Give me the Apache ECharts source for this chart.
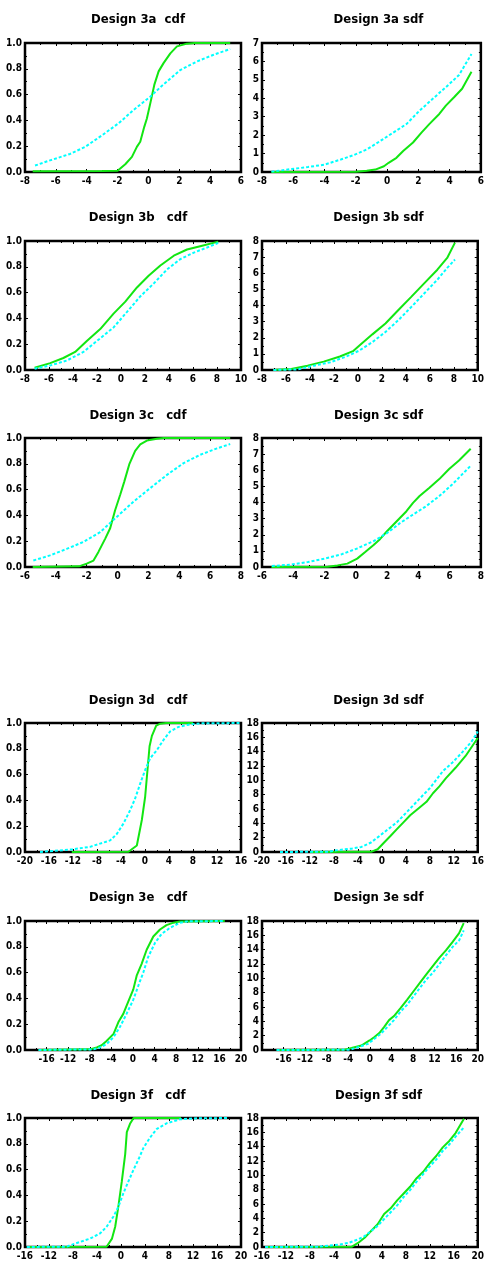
<!DOCTYPE html>
<html>
<head>
<meta charset="utf-8">
<script src="https://cdn.jsdelivr.net/npm/echarts/dist/echarts.min.js"></script>
<style>
html,body{margin:0;padding:0;background:#fff}
#chart{width:487px;height:1262px}
</style>
</head>
<body>
<div id="chart"></div>
<script>
// ---- Design 3a ----
const cdf3aGreen = [[-7.5,0.005],[-3,0.008],[-2,0.01],[-1.5,0.06],[-1.07,0.117],[-0.75,0.195],[-0.53,0.234],[-0.27,0.35],[-0.1,0.415],[0.12,0.532],[0.38,0.675],[0.66,0.78],[0.98,0.844],[1.42,0.92],[1.85,0.974],[2.5,0.995],[3,1],[5.3,1]];
const cdf3aCyan = [[-7.35,0.05],[-6.38,0.09],[-5.08,0.14],[-4.1,0.195],[-3.0,0.285],[-1.94,0.377],[-0.97,0.48],[0.12,0.584],[0.77,0.657],[2.06,0.79],[3.15,0.857],[4.23,0.909],[5.3,0.953]];
const sdf3aGreen = [[-7.4,0],[-2,0.02],[-1.3,0.07],[-0.75,0.13],[-0.2,0.31],[0.1,0.5],[0.6,0.77],[1.03,1.14],[1.66,1.6],[2.2,2.14],[2.7,2.6],[3.34,3.15],[3.76,3.6],[4.3,4.07],[4.8,4.52],[5.4,5.44]];
const sdf3aCyan = [[-7.4,0.02],[-6.1,0.16],[-5.06,0.27],[-4.0,0.4],[-2.96,0.68],[-2.12,0.92],[-1.28,1.23],[-0.44,1.68],[0.4,2.14],[1.24,2.6],[2.08,3.33],[2.92,3.97],[3.76,4.6],[4.6,5.26],[5.4,6.4]];
// ---- Design 3b ----
const cdf3bGreen = [[-7.2,0.018],[-5.9,0.053],[-4.8,0.093],[-3.82,0.14],[-2.85,0.225],[-1.73,0.317],[-0.62,0.437],[0.36,0.53],[1.33,0.64],[2.3,0.73],[3.28,0.81],[4.4,0.886],[5.5,0.934],[6.6,0.96],[8.1,0.995]];
const cdf3bCyan = [[-7.2,0.01],[-5.9,0.035],[-4.5,0.074],[-3.13,0.14],[-1.73,0.246],[-0.62,0.33],[0.5,0.45],[1.6,0.57],[2.72,0.67],[3.84,0.78],[4.95,0.86],[6.07,0.91],[7.18,0.95],[8.1,0.985]];
const sdf3bGreen = [[-7.05,0],[-5.56,0.06],[-4.2,0.27],[-2.85,0.52],[-1.5,0.84],[-0.41,1.17],[0.13,1.52],[1.21,2.21],[2.3,2.88],[3.38,3.72],[4.47,4.55],[5.55,5.39],[6.63,6.22],[7.45,6.95],[8.1,7.9]];
const sdf3bCyan = [[-7.05,0],[-5.0,0.04],[-3.66,0.27],[-2.3,0.48],[-0.95,0.84],[0.13,1.21],[1.21,1.73],[2.3,2.36],[3.38,3.09],[4.47,3.92],[5.55,4.76],[6.63,5.6],[7.45,6.33],[8.1,6.85]];
// ---- Design 3c ----
const cdf3cGreen = [[-5.5,0],[-2.5,0.005],[-2.0,0.026],[-1.56,0.05],[-1.24,0.117],[-0.8,0.22],[-0.48,0.3],[-0.16,0.44],[0.17,0.56],[0.43,0.66],[0.77,0.8],[1.14,0.9],[1.47,0.95],[1.9,0.98],[2.55,0.995],[3,1],[7.3,1]];
const cdf3cCyan = [[-5.46,0.05],[-4.38,0.09],[-3.3,0.14],[-2.2,0.195],[-1.13,0.27],[-0.16,0.377],[1.03,0.506],[2.1,0.61],[3.2,0.714],[4.28,0.805],[5.36,0.87],[6.45,0.92],[7.3,0.953]];
const sdf3cGreen = [[-5.4,0],[-1.8,0.01],[-1.17,0.1],[-0.54,0.21],[0.09,0.52],[0.62,0.94],[1.14,1.36],[1.56,1.74],[1.98,2.2],[2.4,2.62],[2.82,3.04],[3.24,3.46],[3.66,3.98],[4.08,4.4],[4.71,4.92],[5.34,5.45],[5.97,6.08],[6.6,6.6],[7.35,7.33]];
const sdf3cCyan = [[-5.37,0.06],[-4.1,0.15],[-3.06,0.31],[-2.0,0.52],[-0.96,0.77],[0.09,1.15],[1.14,1.61],[1.98,2.09],[2.82,2.72],[3.66,3.25],[4.5,3.77],[5.34,4.4],[6.18,5.13],[7.35,6.28]];
// ---- Design 3d ----
const cdf3dGreen = [[-12.2,0],[-2.75,0.002],[-1.36,0.05],[-0.52,0.25],[0.03,0.43],[0.76,0.82],[1.15,0.9],[1.87,0.98],[2.54,0.995],[3.5,1],[8,1]];
const cdf3dCyan = [[-17.5,0],[-12.2,0.02],[-9.15,0.04],[-7.5,0.065],[-5.8,0.09],[-4.7,0.14],[-3.6,0.22],[-2.47,0.325],[-1.64,0.415],[-0.8,0.53],[0.03,0.636],[0.87,0.727],[1.98,0.79],[3.1,0.87],[4.2,0.935],[5.6,0.97],[7.27,0.987],[9.2,0.997],[16,1]];
const sdf3dGreen = [[-12,0],[-1.8,0.02],[-0.7,0.38],[0.38,1.33],[1.47,2.27],[2.55,3.22],[3.64,4.17],[4.73,5.12],[6.1,6.07],[7.45,7.0],[8.53,8.2],[9.6,9.15],[10.7,10.3],[12.3,11.75],[13.97,13.4],[16,15.9]];
const sdf3dCyan = [[-17,0],[-8.9,0.05],[-7.2,0.28],[-5.05,0.47],[-3.4,0.71],[-1.8,1.33],[-0.7,2.04],[0.38,2.75],[1.47,3.46],[2.55,4.17],[3.64,5.12],[4.73,6.07],[5.8,7.0],[6.9,7.96],[8.0,8.9],[9.1,10.1],[10.2,11.3],[11.8,12.5],[13.4,13.9],[15.05,15.5],[16,16.8]];
// ---- Design 3e ----
const cdf3eGreen = [[-17.5,0],[-8,0.005],[-6.7,0.02],[-5.8,0.037],[-4.9,0.07],[-3.6,0.125],[-2.7,0.217],[-1.8,0.28],[-0.86,0.377],[0.06,0.47],[0.68,0.576],[1.6,0.668],[2.53,0.777],[3.76,0.88],[5.0,0.934],[6.2,0.968],[7.5,0.987],[8.7,0.997],[17,1]];
const cdf3eCyan = [[-17.5,0],[-7.3,0.005],[-6.1,0.02],[-4.9,0.045],[-3.6,0.1],[-2.4,0.18],[-1.2,0.28],[0.06,0.39],[1.0,0.5],[1.9,0.6],[2.8,0.72],[4.07,0.83],[5.3,0.9],[6.85,0.947],[8.7,0.987],[10,0.997],[17,1]];
const sdf3eGreen = [[-17.3,0],[-4.9,0.02],[-3.4,0.28],[-1.57,0.62],[-0.06,1.33],[0.85,1.8],[1.75,2.37],[2.66,3.22],[3.56,4.17],[4.47,4.74],[5.68,5.83],[6.89,7.0],[8.1,8.2],[9.3,9.4],[10.5,10.6],[11.7,11.75],[12.9,12.9],[14.1,13.9],[15.35,15.1],[16.55,16.3],[17.4,17.7]];
const sdf3eCyan = [[-17.3,0],[-3.7,0.03],[-2.2,0.38],[-0.36,0.85],[0.85,1.56],[2.05,2.27],[3.26,3.22],[4.47,4.17],[5.68,5.36],[6.9,6.3],[8.1,7.5],[9.3,8.7],[10.5,9.86],[11.7,10.8],[12.9,12.0],[14.1,13.2],[15.35,14.4],[16.55,15.3],[17.4,16.7]];
// ---- Design 3f ----
const cdf3fGreen = [[-15.7,0],[-2.4,0.002],[-1.5,0.065],[-0.97,0.157],[-0.4,0.327],[0.14,0.51],[0.7,0.72],[0.97,0.89],[1.5,0.955],[2.1,1],[10,1]];
const cdf3fCyan = [[-15.7,0],[-9,0.003],[-8.5,0.013],[-6.8,0.04],[-5.15,0.065],[-3.5,0.105],[-2.4,0.157],[-1.26,0.236],[-0.42,0.314],[0.42,0.42],[1.25,0.51],[2.1,0.6],[2.92,0.68],[3.76,0.77],[4.87,0.85],[5.98,0.916],[7.65,0.96],[9.88,0.99],[12.1,0.997],[18,1]];
const sdf3fGreen = [[-15.5,0],[-1.05,0.02],[0.03,0.57],[1.12,1.28],[2.2,2.23],[3.3,3.18],[4.38,4.6],[5.47,5.4],[6.55,6.5],[7.64,7.46],[8.7,8.4],[9.8,9.6],[10.9,10.5],[12.0,11.7],[13.07,12.7],[14.16,13.9],[15.25,14.8],[16.3,15.9],[17.7,17.9]];
const sdf3fCyan = [[-15.5,0],[-6.5,0.05],[-4.85,0.19],[-3.2,0.33],[-1.6,0.57],[0.03,1.05],[1.12,1.52],[2.2,2.23],[3.3,2.95],[4.38,3.9],[5.47,4.85],[6.55,5.8],[7.64,6.98],[8.7,7.93],[9.8,9.12],[10.9,10.17],[12.0,11.26],[13.07,12.2],[14.16,13.4],[15.25,14.3],[16.3,15.4],[17.7,16.7]];

// panel titles and axis ranges: [xMin, xMax, xStep], [yMax, yStep], hidden x labels
const panelTitles = ['Design 3a  cdf','Design 3a sdf','Design 3b   cdf','Design 3b sdf','Design 3c   cdf','Design 3c sdf',
                     'Design 3d   cdf','Design 3d sdf','Design 3e   cdf','Design 3e sdf','Design 3f   cdf','Design 3f sdf'];
const xRanges = [[-8,6,2],[-8,6,2],[-8,10,2],[-8,10,2],[-6,8,2],[-6,8,2],
                 [-20,16,4],[-20,16,4],[-20,20,4],[-20,20,4],[-16,20,4],[-16,20,4]];
const yRanges = [[1,0.2],[7,1],[1,0.2],[8,1],[1,0.2],[8,1],
                 [1,0.2],[18,2],[1,0.2],[18,2],[1,0.2],[18,2]];
const hiddenXLabels = [[],[],[],[],[],[],[],[],[-20],[-20],[],[]];
const greenSeries = [cdf3aGreen,sdf3aGreen,cdf3bGreen,sdf3bGreen,cdf3cGreen,sdf3cGreen,cdf3dGreen,sdf3dGreen,cdf3eGreen,sdf3eGreen,cdf3fGreen,sdf3fGreen];
const cyanSeries  = [cdf3aCyan,sdf3aCyan,cdf3bCyan,sdf3bCyan,cdf3cCyan,sdf3cCyan,cdf3dCyan,sdf3dCyan,cdf3eCyan,sdf3eCyan,cdf3fCyan,sdf3fCyan];

// layout of the 6x2 panel grid
const rowTops = [43, 241, 438, 723, 921, 1118];
const titleTops = [8, 206, 404, 689, 886, 1084];
const boxH = 129;
const cols = [{left: 25, width: 216}, {left: 262, width: 223}];

const FONT = '"Liberation Sans Narrow", "DejaVu Sans Condensed", sans-serif';
const GREEN = '#12e612';
const CYAN = '#00ffff';

const option = {
  backgroundColor: '#fff',
  animation: false,
  title: [], grid: [], xAxis: [], yAxis: [], series: []
};

const tickStyle = {show: true, inside: true, length: 3, lineStyle: {color: '#000', width: 1}};
const minorStyle = {show: true, splitNumber: 2, length: 2, lineStyle: {color: '#000', width: 1}};
const noLine = {show: false, onZero: false};

for (let i = 0; i < 12; i++) {
  const row = Math.floor(i / 2), col = cols[i % 2];
  const [xMin, xMax, xStep] = xRanges[i];
  const [yMax, yStep] = yRanges[i];
  const isCdf = yMax === 1;
  const hidden = hiddenXLabels[i];

  option.title.push({
    text: panelTitles[i],
    left: col.left + col.width / 2,
    top: titleTops[row],
    textAlign: 'center',
    textStyle: {fontFamily: FONT, fontWeight: 'bold', fontSize: 13, color: '#000'}
  });
  option.grid.push({
    left: col.left, top: rowTops[row], width: col.width, height: boxH,
    show: true, borderColor: '#000', borderWidth: 2.5, backgroundColor: '#fff'
  });
  // bottom / left axes with labels
  option.xAxis.push({
    type: 'value', gridIndex: i, min: xMin, max: xMax, interval: xStep, position: 'bottom',
    axisLine: noLine, splitLine: {show: false},
    axisTick: tickStyle, minorTick: minorStyle,
    axisLabel: {
      show: true, showMinLabel: true, showMaxLabel: true, margin: 4,
      fontFamily: FONT, fontWeight: 'bold', fontSize: 10, color: '#000',
      formatter: v => hidden.includes(v) ? '' : String(v)
    }
  });
  option.yAxis.push({
    type: 'value', gridIndex: i, min: 0, max: yMax, interval: yStep, position: 'left',
    axisLine: noLine, splitLine: {show: false},
    axisTick: tickStyle, minorTick: minorStyle,
    axisLabel: {
      show: true, showMinLabel: true, showMaxLabel: true, margin: 3,
      fontFamily: FONT, fontWeight: 'bold', fontSize: 10, color: '#000',
      formatter: v => isCdf ? v.toFixed(1) : String(Math.round(v))
    }
  });
  // mirrored top / right ticks
  option.xAxis.push({
    type: 'value', gridIndex: i, min: xMin, max: xMax, interval: xStep, position: 'top',
    axisLine: noLine, splitLine: {show: false}, axisLabel: {show: false},
    axisTick: tickStyle, minorTick: minorStyle
  });
  option.yAxis.push({
    type: 'value', gridIndex: i, min: 0, max: yMax, interval: yStep, position: 'right',
    axisLine: noLine, splitLine: {show: false}, axisLabel: {show: false},
    axisTick: tickStyle, minorTick: minorStyle
  });

  option.series.push({
    type: 'line', xAxisIndex: 2 * i, yAxisIndex: 2 * i, data: greenSeries[i],
    showSymbol: false, symbol: 'none', silent: true,
    lineStyle: {color: GREEN, width: 2}
  });
  option.series.push({
    type: 'line', xAxisIndex: 2 * i, yAxisIndex: 2 * i, data: cyanSeries[i],
    showSymbol: false, symbol: 'none', silent: true,
    lineStyle: {color: CYAN, width: 2, type: [3, 2]}
  });
}

const chart = echarts.init(document.getElementById('chart'), null, {renderer: 'canvas'});
chart.setOption(option);
</script>
</body>
</html>
